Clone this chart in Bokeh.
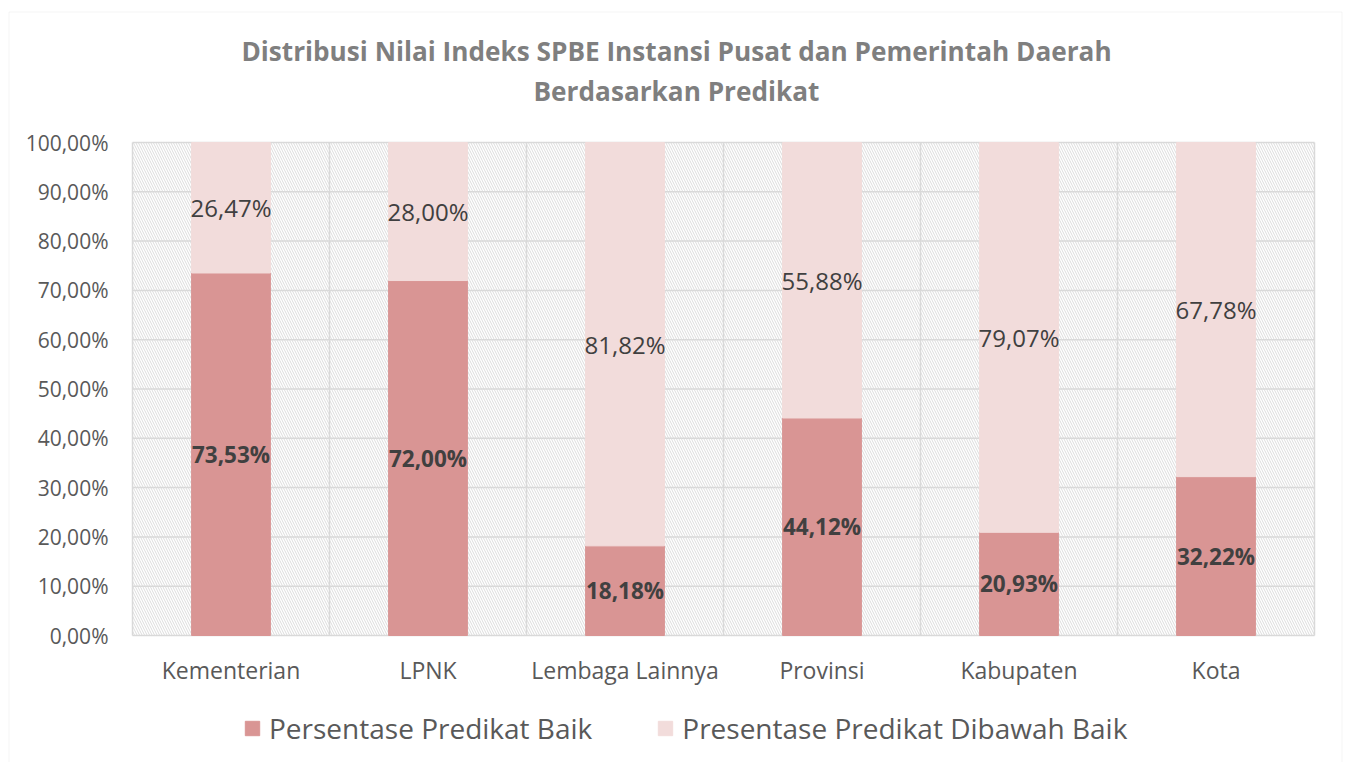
from bokeh.plotting import figure
from bokeh.models import (ColumnDataSource, FixedTicker, Legend, LegendItem,
                          Label, BoxAnnotation)
from bokeh.core.properties import value
from bokeh.embed import file_html
from bokeh.resources import INLINE

# ---------------- data ----------------
categories = ["Kementerian", "LPNK", "Lembaga Lainnya", "Provinsi", "Kabupaten", "Kota"]
baik = [73.53, 72.00, 18.18, 44.12, 20.93, 32.22]
dibawah = [26.47, 28.00, 81.82, 55.88, 79.07, 67.78]
series_names = ["Persentase Predikat Baik", "Presentase Predikat Dibawah Baik"]
y_ticks = [0, 10, 20, 30, 40, 50, 60, 70, 80, 90, 100]
title_lines = ["Distribusi Nilai Indeks SPBE Instansi Pusat dan Pemerintah Daerah",
               "Berdasarkan Predikat"]

# ---------------- styles / layout ----------------
FONT = "Open Sans"
C_BAIK = "#d99594"
C_BAWAH = "#f2dcdb"
GRID = "#d9d9d9"
W, H = 1346, 762
PLOT_L, PLOT_R, PLOT_T, PLOT_B = 132, 1314, 142, 635   # plot-area pixels


def fmt(v):
    return f"{v:.2f}".replace(".", ",") + "%"


n = len(categories)
ymin, ymax = y_ticks[0], y_ticks[-1]
# ranges chosen so that the value box [0, n] x [0, 100] lands on the plot area
px_x = (PLOT_R - PLOT_L) / n
px_y = (PLOT_B - PLOT_T) / (ymax - ymin)
x_range = (-PLOT_L / px_x, n + (W - PLOT_R) / px_x)
y_range = (ymin - (H - PLOT_B) / px_y, ymax + PLOT_T / px_y)

xs = [i + 0.5 for i in range(n)]
src = ColumnDataSource(dict(
    x=xs,
    baik=baik,
    dibawah=dibawah,
    mid1=[b / 2 for b in baik],
    mid2=[b + d / 2 for b, d in zip(baik, dibawah)],
    lab1=[fmt(b) for b in baik],
    lab2=[fmt(d) for d in dibawah],
))

p = figure(width=W, height=H, x_range=x_range, y_range=y_range,
           output_backend="svg", toolbar_location=None,
           min_border=0, min_border_left=0, min_border_right=0,
           min_border_top=0, min_border_bottom=0)
p.title = None
p.outline_line_color = None
p.background_fill_color = "white"
p.border_fill_color = "white"
p.xgrid.visible = False
p.ygrid.visible = False

# hatched plot-area background
hatch = BoxAnnotation(left=0, right=n, bottom=ymin, top=ymax,
                      fill_color="white", fill_alpha=1, line_color=None,
                      hatch_pattern="\\", hatch_color="#dcdcdc",
                      hatch_scale=5, hatch_weight=1, level="image")
p.add_layout(hatch)

# outer chart border
border = BoxAnnotation(left=8.5, right=W - 4.5, bottom=-10, top=H - 11.5,
                       left_units="screen", right_units="screen",
                       top_units="screen", bottom_units="screen",
                       fill_alpha=0, line_color=GRID, line_width=1,
                       level="underlay")
p.add_layout(border)

# grid lines (horizontal at ticks, vertical at category boundaries)
p.segment(x0=[0] * len(y_ticks), x1=[n] * len(y_ticks), y0=y_ticks, y1=y_ticks,
          line_color=GRID, line_width=1.5)
p.segment(x0=list(range(n + 1)), x1=list(range(n + 1)),
          y0=[ymin] * (n + 1), y1=[ymax] * (n + 1),
          line_color=GRID, line_width=1.5)

# axes pinned to the value box
p.xaxis.fixed_location = ymin
p.yaxis.fixed_location = 0
p.xaxis.ticker = FixedTicker(ticks=xs)
p.xaxis.major_label_overrides = {x: c for x, c in zip(xs, categories)}
p.yaxis.ticker = FixedTicker(ticks=y_ticks)
p.yaxis.major_label_overrides = {t: fmt(t) for t in y_ticks}
for ax in (p.xaxis, p.yaxis):
    ax.axis_line_color = None
    ax.major_tick_line_color = None
    ax.minor_tick_line_color = None
    ax.major_tick_out = 0
    ax.major_tick_in = 0
    ax.major_label_text_font = FONT
    ax.major_label_text_color = "#595959"
p.xaxis.major_label_text_font_size = "23px"
p.yaxis.major_label_text_font_size = "21px"
p.xaxis.major_label_standoff = 18
p.yaxis.major_label_standoff = 24

# bars
rs = p.vbar_stack(["baik", "dibawah"], x="x", width=0.4,
                  color=[C_BAIK, C_BAWAH], source=src)

# data labels
p.text(x="x", y="mid1", text="lab1", source=src, text_font=value(FONT),
       text_font_style="bold", text_font_size="22.5px", text_color="#404040",
       text_align="center", text_baseline="middle")
p.text(x="x", y="mid2", text="lab2", source=src, text_font=value(FONT),
       text_font_size="24px", text_color="#404040",
       text_align="center", text_baseline="middle")

# title (two lines)
for txt, yy in zip(title_lines, [H - 50, H - 90]):
    p.add_layout(Label(x=676, y=yy, x_units="screen", y_units="screen",
                       text=txt, text_align="center", text_baseline="middle",
                       text_font=FONT, text_font_style="bold",
                       text_font_size="26.2px", text_color="#7f7f7f"))

# legend
legend = Legend(items=[LegendItem(label=series_names[0], renderers=[rs[0]]),
                       LegendItem(label=series_names[1], renderers=[rs[1]])],
                location=(243, 15), orientation="horizontal",
                glyph_width=18, glyph_height=18, label_standoff=8,
                spacing=64, padding=0, margin=0,
                label_text_font=FONT, label_text_font_size="28px",
                label_text_color="#595959",
                border_line_color=None, background_fill_alpha=0)
p.add_layout(legend)

open("out.html", "w").write(file_html(p, INLINE))
